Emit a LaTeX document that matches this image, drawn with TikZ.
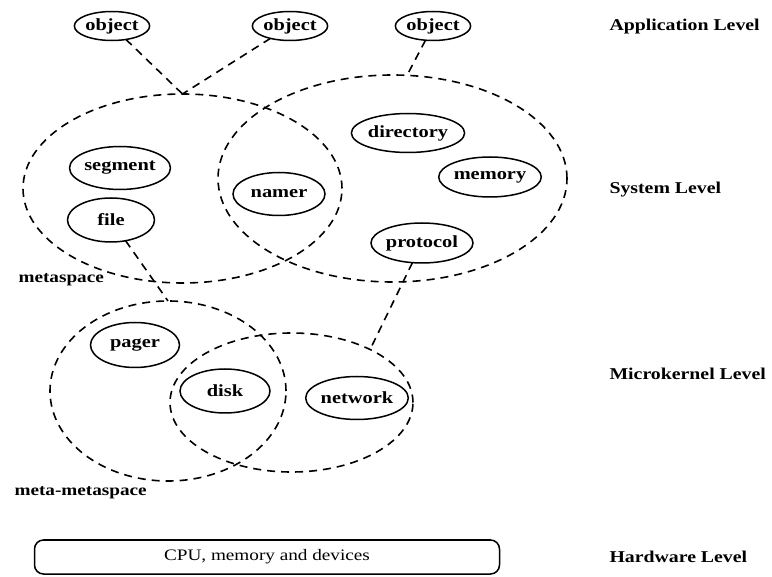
\documentclass[tikz,border=0pt]{standalone}
\usepackage{fontspec}
\setmainfont{Liberation Serif}
\newfontfamily\widefont[FakeStretch=1.2]{Liberation Serif}
\usetikzlibrary{shapes.geometric}
\begin{document}
\begin{tikzpicture}[x=1pt,y=-1pt,
  comp/.style={draw, ellipse, line width=1.5pt, inner sep=0pt, outer sep=0pt,
    minimum width=#1, minimum height=43pt,
    font=\widefont\fontsize{17}{19}\selectfont\bfseries},
  space/.style={draw, ellipse, inner sep=0pt, outer sep=0pt,
    dash pattern=on 8pt off 6pt, line width=1.6pt},
  link/.style={dash pattern=on 8pt off 6pt, line width=1.6pt},
  level/.style={anchor=west, font=\widefont\fontsize{16.5}{19}\selectfont\bfseries},
  tag/.style={anchor=west, font=\widefont\fontsize{16}{18}\selectfont\bfseries}]
\useasboundingbox (0,0) rectangle (772,577);

% application objects
\node[comp=70pt, minimum height=29pt] (o1) at (112,26) {object};
\node[comp=72pt, minimum height=29pt] (o2) at (290,26) {object};
\node[comp=72pt, minimum height=29pt] (o3) at (433,26) {object};

% system level: two overlapping metaspaces
\node[space, minimum width=319pt, minimum height=189pt] (meta) at (182.5,188.5) {};
\node[space, minimum width=349pt, minimum height=207pt] (sys) at (392.5,178.5) {};

\node[comp=88pt] (segment) at (120,168) {segment};
\node[comp=87pt, minimum height=44pt] (file) at (111,220) {file};
\node[comp=92pt] (namer) at (279,194) {namer};
\node[comp=91pt, minimum height=39pt] (directory) at (408,133) {directory};
\node[comp=84pt, minimum height=40pt] (memory) at (490,177) {memory};
\node[comp=91pt, minimum height=40pt] (protocol) at (422,243) {protocol};
\node[tag] (metalabel) at (15,280) {metaspace};

% microkernel level
\node[space, minimum width=236pt, minimum height=180pt] (mm) at (168,391) {};
\node[space, minimum width=243pt, minimum height=139pt] (netsp) at (291.5,402.5) {};

\node[comp=89pt, minimum height=45pt] (pager) at (135,345) {pager};
\node[comp=90pt, minimum height=44pt] (disk) at (225,391) {disk};
\node[comp=91pt] (network) at (357,398) {network};
\node[tag] (mmlabel) at (11,493) {meta-metaspace};

% hardware
\node[draw, rounded corners=9pt, line width=1.5pt, minimum width=465pt,
  minimum height=34pt, font=\widefont\fontsize{16}{18}\selectfont]
  (hw) at (267,557) {CPU, memory and devices};

% connectors
\draw[link] (o1) -- (meta.north);
\draw[link] (o2) -- (meta.north);
\draw[link] (o3) -- (sys.82);
\draw[link] (file) -- (mm.north);
\draw[link] (protocol) -- (netsp.34);

% level names
\node[level] (lapp) at (606,27) {Application Level};
\node[level] (lsys) at (606,190) {System Level};
\node[level] (lmic) at (606,374) {Microkernel Level};
\node[level] (lhw) at (606,557) {Hardware Level};
\end{tikzpicture}
\end{document}
